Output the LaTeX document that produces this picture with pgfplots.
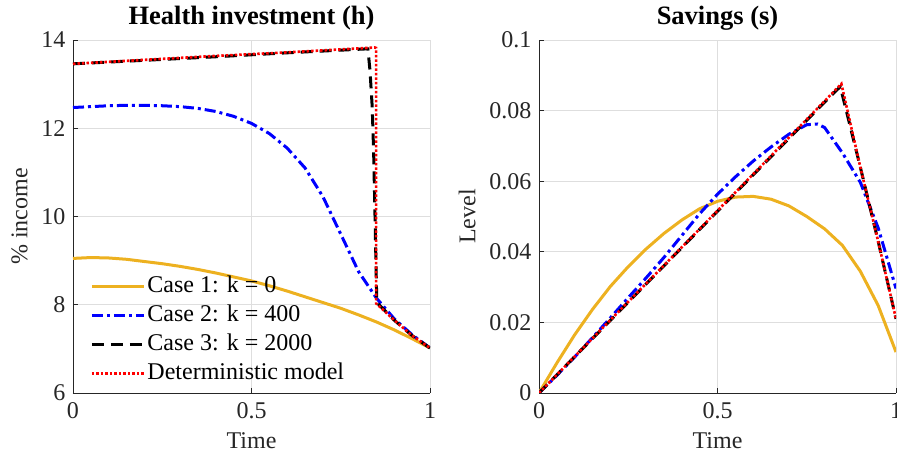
\documentclass[border=0pt]{standalone}
\usepackage{fontspec}
\setmainfont{Liberation Serif}
\usepackage{pgfplots}
\pgfplotsset{compat=1.18}
\definecolor{myyellow}{rgb}{0.929,0.694,0.125}
\definecolor{axgray}{rgb}{0.15,0.15,0.15}
\definecolor{gridgray}{rgb}{0.87,0.87,0.87}
\newcommand{\fs}{\fontsize{24}{28}\selectfont}
\newcommand{\tfs}{\fontsize{26.5}{30}\selectfont\bfseries}
\pgfplotsset{
  mstyle/.style={
    scale only axis, width=357pt, height=353pt,
    xmin=0, xmax=1,
    /pgf/number format/assume math mode=true,
    axis x line*=bottom, axis y line*=left,
    axis line style={axgray, line width=0.6pt},
    tick style={axgray, line width=0.6pt},
    tick align=inside, major tick length=5pt,
    grid=major, grid style={gridgray, line width=0.6pt},
    xtick={0,0.5,1},
    ticklabel style={font=\fs, text=axgray},
    xticklabel style={yshift=-6pt},
    yticklabel style={xshift=-4pt},
    label style={font=\fs, text=axgray},
    xlabel style={yshift=-7pt},
    ylabel style={yshift=7pt},
    title style={font=\tfs, text=black},
    xlabel={Time},
  },
  c1/.style={myyellow, line width=3pt, solid},
  c2/.style={blue, line width=3pt, dash pattern=on 11pt off 4pt on 3pt off 4pt},
  c3/.style={black, line width=3pt, dash pattern=on 12pt off 7pt},
  c4/.style={red, line width=2.6pt, dash pattern=on 2.5pt off 2pt},
}
\begin{document}
\begin{tikzpicture}
\begin{axis}[mstyle, at={(0pt,0pt)}, anchor=south west,
  ymin=6, ymax=14, ytick={6,8,10,12,14},
  title={Health investment (h)}, ylabel={\% income},
  legend style={at={(0.04,0.01)}, anchor=south west, draw=none, fill=none,
    font=\fs, text=black, row sep=1pt,
    nodes={text height=18pt, text depth=6pt, inner sep=2pt}},
  legend cell align=left,
  legend image code/.code={\draw[#1] (0pt,0pt) -- (52pt,0pt);},
]
\addplot[c1] coordinates {(0,9.05) (0.05,9.07) (0.1,9.06) (0.15,9.03) (0.2,8.98) (0.25,8.93) (0.3,8.87) (0.35,8.80) (0.4,8.72) (0.45,8.63) (0.5,8.54) (0.55,8.43) (0.6,8.31) (0.65,8.18) (0.7,8.05) (0.75,7.92) (0.8,7.77) (0.85,7.61) (0.9,7.43) (0.95,7.23) (1,7.02)};
\addlegendentry{Case 1: k = 0}
\addplot[c2] coordinates {(0,12.47) (0.05,12.49) (0.1,12.51) (0.15,12.52) (0.2,12.52) (0.25,12.51) (0.3,12.49) (0.35,12.45) (0.4,12.38) (0.45,12.27) (0.5,12.11) (0.55,11.88) (0.6,11.55) (0.65,11.10) (0.7,10.45) (0.75,9.60) (0.8,8.75) (0.85,8.15) (0.9,7.68) (0.95,7.32) (1,7.02)};
\addlegendentry{Case 2: k = 400}
\addplot[c3] coordinates {(0,13.46) (0.2,13.54) (0.4,13.62) (0.6,13.71) (0.8,13.79) (0.826,13.80) (0.832,13.3) (0.838,12.5) (0.842,11.5) (0.846,10.0) (0.849,8.8) (0.851,8.05) (0.9,7.65) (0.95,7.30) (1,7.02)};
\addlegendentry{Case 3: k = 2000}
\addplot[c4] coordinates {(0,13.46) (0.2,13.55) (0.4,13.64) (0.6,13.72) (0.8,13.81) (0.845,13.83) (0.849,13.82) (0.849,8.03) (0.9,7.65) (0.95,7.30) (1,7.02)};
\addlegendentry{Deterministic model}
\end{axis}
\begin{axis}[mstyle, at={(466pt,0pt)}, anchor=south west,
  ymin=0, ymax=0.1, ytick={0,0.02,0.04,0.06,0.08,0.1},
  scaled y ticks=false,
  yticklabel style={/pgf/number format/fixed, /pgf/number format/precision=2},
  title={Savings (s)}, ylabel={Level},
]
\addplot[c1] coordinates {(0,0) (0.05,0.0085) (0.1,0.0165) (0.15,0.0237) (0.2,0.0302) (0.25,0.0358) (0.3,0.0408) (0.35,0.0452) (0.4,0.0490) (0.45,0.0522) (0.5,0.0543) (0.55,0.0555) (0.6,0.0557) (0.65,0.0549) (0.7,0.0530) (0.75,0.0500) (0.8,0.0465) (0.85,0.0418) (0.9,0.0345) (0.95,0.0248) (1,0.0116)};
\addplot[c2] coordinates {(0,0) (0.05,0.0050) (0.1,0.0102) (0.15,0.0157) (0.2,0.0213) (0.25,0.0270) (0.3,0.0326) (0.35,0.0384) (0.4,0.0446) (0.45,0.0508) (0.5,0.0563) (0.55,0.0612) (0.6,0.0657) (0.65,0.0697) (0.7,0.0733) (0.75,0.0760) (0.78,0.0762) (0.8,0.0752) (0.85,0.0680) (0.9,0.0597) (0.95,0.0468) (1,0.0296)};
\addplot[c3] coordinates {(0,0) (0.2,0.0206) (0.4,0.0412) (0.6,0.0618) (0.8,0.0824) (0.844,0.0868) (0.9,0.0640) (0.95,0.0430) (1,0.0210)};
\addplot[c4] coordinates {(0,0) (0.2,0.0207) (0.4,0.0413) (0.6,0.0620) (0.8,0.0827) (0.847,0.0876) (0.9,0.0640) (0.95,0.0430) (1,0.0210)};
\end{axis}
\pgfresetboundingbox
\useasboundingbox (-73pt,-67pt) rectangle (824pt,393pt);
\end{tikzpicture}
\end{document}
